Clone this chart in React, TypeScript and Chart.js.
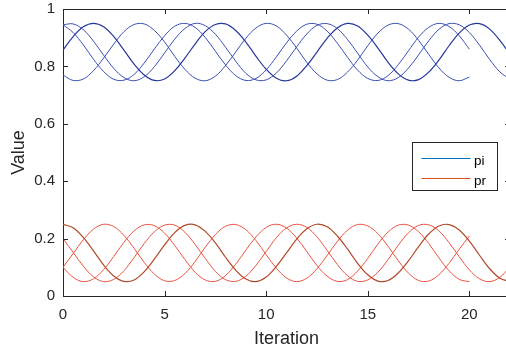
import React, { useEffect, useRef } from "react";
import { Chart, registerables } from "chart.js";

Chart.register(...registerables);

// Iteration values (x)
const iterations = [
  0, 0.5, 1, 1.5, 2, 2.5, 3, 3.5, 4, 4.5, 5, 5.5, 6, 6.5, 7, 7.5, 8, 8.5, 9, 9.5,
  10, 10.5, 11, 11.5, 12, 12.5, 13, 13.5, 14, 14.5, 15, 15.5, 16, 16.5, 17, 17.5,
  18, 18.5, 19, 19.5, 20, 20.5, 21, 21.5, 22,
];

// pi series (blue)
const piA = [
  0.945, 0.948, 0.928, 0.888, 0.839, 0.793, 0.761, 0.75, 0.764, 0.799,
  0.847, 0.895, 0.932, 0.95, 0.942, 0.912, 0.867, 0.818, 0.776, 0.753,
  0.753, 0.777, 0.819, 0.868, 0.913, 0.943, 0.949, 0.932, 0.894, 0.846,
  0.798, 0.764, 0.75, 0.761, 0.794, 0.84, 0.889, 0.929, 0.949, 0.945,
  0.918, 0.874, 0.824, 0.781, 0.755,
];
const piB = [
  0.857, 0.904, 0.938, 0.95, 0.938, 0.904, 0.857, 0.808, 0.77, 0.751,
  0.756, 0.785, 0.829, 0.878, 0.921, 0.946, 0.948, 0.925, 0.885, 0.835,
  0.79, 0.759, 0.75, 0.766, 0.803, 0.85, 0.898, 0.934, 0.95, 0.941,
  0.909, 0.864, 0.814, 0.774, 0.752, 0.754, 0.78, 0.822, 0.872, 0.916,
  0.944, 0.949, 0.93, 0.891, 0.842,
];
const piC = [
  0.77, 0.751, 0.756, 0.785, 0.829, 0.878, 0.921, 0.946, 0.948, 0.925,
  0.885, 0.835, 0.79, 0.759, 0.75, 0.766, 0.803, 0.85, 0.898, 0.934,
  0.95, 0.941, 0.909, 0.864, 0.814, 0.774, 0.752, 0.754, 0.78, 0.822,
  0.872, 0.916, 0.944, 0.949, 0.93, 0.891, 0.842, 0.795, 0.762, 0.75,
  0.763,
];
const piD = [
  0.945, 0.918, 0.875, 0.825, 0.782, 0.755, 0.752, 0.772, 0.812, 0.861,
  0.907, 0.94, 0.95, 0.936, 0.901, 0.853, 0.805, 0.768, 0.751, 0.758,
  0.788, 0.833, 0.882, 0.923, 0.947, 0.947, 0.923, 0.881, 0.832, 0.787,
  0.758, 0.751, 0.768, 0.806, 0.854, 0.902, 0.936, 0.95, 0.939, 0.907,
  0.86,
];

// pr series (red)
const prA = [
  0.25, 0.238, 0.204, 0.157, 0.108, 0.07, 0.051, 0.056, 0.085, 0.129,
  0.178, 0.221, 0.246, 0.248, 0.225, 0.185, 0.135, 0.09, 0.059, 0.05,
  0.066, 0.103, 0.15, 0.198, 0.234, 0.25, 0.241, 0.209, 0.164, 0.114,
  0.074, 0.052, 0.054, 0.08, 0.122, 0.172, 0.216, 0.244, 0.249, 0.23,
  0.191, 0.142, 0.095, 0.062, 0.05,
];
const prB = [
  0.2, 0.152, 0.104, 0.067, 0.05, 0.058, 0.088, 0.134, 0.183, 0.224,
  0.247, 0.247, 0.222, 0.18, 0.131, 0.086, 0.057, 0.051, 0.069, 0.107,
  0.155, 0.203, 0.237, 0.25, 0.239, 0.206, 0.159, 0.11, 0.071, 0.051,
  0.056, 0.083, 0.127, 0.177, 0.22, 0.246, 0.248, 0.227, 0.186, 0.137,
  0.091, 0.06, 0.05, 0.065, 0.101,
];
const prC = [
  0.1, 0.148, 0.196, 0.233, 0.25, 0.242, 0.211, 0.166, 0.117, 0.076,
  0.053, 0.054, 0.078, 0.12, 0.17, 0.214, 0.243, 0.249, 0.231, 0.193,
  0.144, 0.097, 0.063, 0.05, 0.062, 0.095, 0.141, 0.19, 0.229, 0.249,
  0.244, 0.217, 0.173, 0.123, 0.08, 0.054, 0.052, 0.074, 0.114, 0.163,
  0.209,
];
const prD = [
  0.1, 0.065, 0.05, 0.06, 0.092, 0.138, 0.187, 0.227, 0.248, 0.245,
  0.219, 0.176, 0.127, 0.083, 0.056, 0.051, 0.071, 0.111, 0.16, 0.206,
  0.239, 0.25, 0.237, 0.202, 0.155, 0.106, 0.069, 0.051, 0.057, 0.087,
  0.131, 0.181, 0.223, 0.247, 0.247, 0.224, 0.183, 0.133, 0.088, 0.058,
  0.05,
];

const xTicks = [0, 5, 10, 15, 20];
const yTicks = [0, 0.2, 0.4, 0.6, 0.8, 1];
const legendLabels = ["pi", "pr"];
const legendColors = ["#0072BD", "#D95319"];

const FONT = '"Liberation Sans", Arial, Helvetica, sans-serif';
const AXIS = "#262626";

const boxPlugin = {
  id: "matlabBox",
  afterDraw(chart: any) {
    const { ctx, chartArea: a, scales } = chart;
    ctx.save();
    ctx.strokeStyle = AXIS;
    ctx.lineWidth = 1;
    ctx.beginPath();
    ctx.moveTo(a.left, Math.round(a.top) + 0.5);
    ctx.lineTo(a.right, Math.round(a.top) + 0.5);
    ctx.moveTo(Math.round(a.right) - 0.5, a.top);
    ctx.lineTo(Math.round(a.right) - 0.5, a.bottom);
    for (const v of xTicks) {
      const px = Math.round(scales.x.getPixelForValue(v)) + 0.5;
      ctx.moveTo(px, a.bottom);
      ctx.lineTo(px, a.bottom - 5);
      ctx.moveTo(px, a.top);
      ctx.lineTo(px, a.top + 5);
    }
    for (const v of yTicks) {
      const py = Math.round(scales.y.getPixelForValue(v)) + 0.5;
      ctx.moveTo(a.left, py);
      ctx.lineTo(a.left + 5, py);
      ctx.moveTo(a.right, py);
      ctx.lineTo(a.right - 5, py);
    }
    ctx.stroke();

    // legend box
    const bx = Math.round(a.right - 98) + 0.5;
    const by = Math.round(a.top + 133) + 0.5;
    const bw = 85;
    const bh = 48;
    ctx.fillStyle = "#ffffff";
    ctx.fillRect(bx, by, bw, bh);
    ctx.strokeStyle = AXIS;
    ctx.strokeRect(bx, by, bw, bh);
    ctx.font = `13.5px ${FONT}`;
    ctx.textBaseline = "alphabetic";
    ctx.textAlign = "left";
    legendLabels.forEach((lab, i) => {
      const ly = by + 16 + i * 20;
      ctx.strokeStyle = legendColors[i];
      ctx.beginPath();
      ctx.moveTo(bx + 9, ly);
      ctx.lineTo(bx + 58, ly);
      ctx.stroke();
      ctx.fillStyle = "#000000";
      ctx.fillText(lab, bx + 61.5, ly + 6);
    });
    ctx.restore();
  },
};

export default function App() {
  const ref = useRef<HTMLCanvasElement>(null);
  useEffect(() => {
    const canvas = ref.current;
    if (!canvas) return;
    const mk = (vals: number[], color: string, width: number) => ({
      data: vals.map((y, i) => ({ x: iterations[i], y })),
      borderColor: color,
      borderWidth: width,
      pointRadius: 0,
      tension: 0.35,
      fill: false,
    });
    const blue = "#3a4fb2";
    const blueDark = "#26379a";
    const red = "#ea5240";
    const redDark = "#b04a2a";
    const chart = new Chart(canvas, {
      type: "line",
      data: {
        datasets: [
          mk(piA, blue, 1),
          mk(piB, blueDark, 1.2),
          mk(piC, blue, 1),
          mk(piD, blue, 1),
          mk(prA, redDark, 1.2),
          mk(prB, red, 1),
          mk(prC, red, 1),
          mk(prD, red, 1),
        ],
      },
      options: {
        responsive: false,
        animation: false,
        devicePixelRatio: 1,
        layout: { padding: { top: 9, right: 10, left: 0, bottom: 0 } },
        plugins: { legend: { display: false }, tooltip: { enabled: false } },
        scales: {
          x: {
            type: "linear",
            min: 0,
            max: 22,
            grid: { display: false, drawTicks: false },
            border: { display: true, color: AXIS, width: 1 },
            ticks: {
              stepSize: 5,
              includeBounds: false,
              autoSkip: false,
              maxRotation: 0,
              padding: 10,
              color: AXIS,
              font: { family: FONT, size: 15 },
            },
            title: {
              display: true,
              text: "Iteration",
              color: AXIS,
              font: { family: FONT, size: 18 },
              padding: { top: 0, bottom: 1 },
            },
            afterFit: (s: any) => {
              s.height = 55;
              s.paddingLeft = 0;
              s.paddingRight = 0;
            },
          },
          y: {
            type: "linear",
            min: 0,
            max: 1,
            grid: { display: false, drawTicks: false },
            border: { display: true, color: AXIS, width: 1 },
            ticks: {
              stepSize: 0.2,
              padding: 8,
              color: AXIS,
              font: { family: FONT, size: 15 },
              callback: (v: any) => String(Math.round(Number(v) * 10) / 10),
            },
            title: {
              display: true,
              text: "Value",
              color: AXIS,
              font: { family: FONT, size: 18 },
              padding: { top: 8, bottom: 0 },
            },
            afterFit: (s: any) => {
              s.width = 63;
              s.paddingTop = 0;
              s.paddingBottom = 0;
            },
          },
        },
      },
      plugins: [boxPlugin],
    } as any);
    return () => chart.destroy();
  }, []);
  return (
    <div
      style={{
        position: "fixed",
        left: 0,
        top: 0,
        width: 520,
        height: 351,
        overflow: "hidden",
        background: "#ffffff",
      }}
    >
      <canvas ref={ref} width={520} height={351} style={{ width: 520, height: 351, display: "block" }} />
    </div>
  );
}
